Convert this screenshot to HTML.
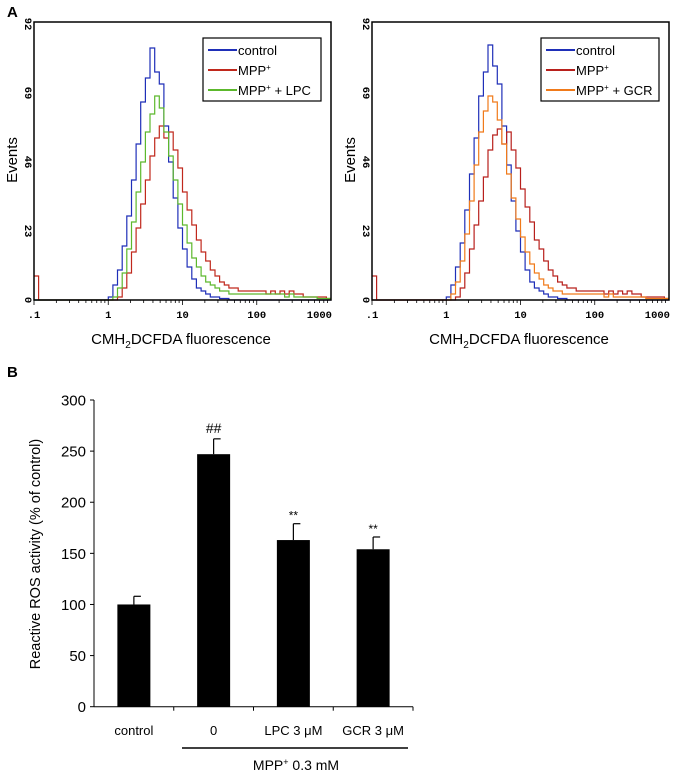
<!DOCTYPE html>
<html><head><meta charset="utf-8"><style>
html,body{margin:0;padding:0;background:#fff;}
svg{display:block;font-family:"Liberation Sans",sans-serif;}
</style></head><body>
<svg id="fig" width="676" height="775" viewBox="0 0 676 775"></svg>
<script>
// ---- histogram data (16 bins per decade, 0.1 .. 1000) ----
const binsPerDecade = 16;
const histLeftControl = [0,0,0,0,0,0,0,0,0,0,0,0,0,0,0,0,1,5,10,18,28,40,52,66,74,84,76,72,58,46,34,24,17,11,7,4,3,2,1,1,0.5,0.5,0,0,0,0,0,0,0,0,0,0,0,0,0,0,0,0,0,0,0,0,0,0];
const histLeftMpp = [8,0,0,0,0,0,0,0,0,0,0,0,0,0,0,0,0,0,1,4,9,16,24,32,40,48,54,58,54,56,50,44,36,30,25,20,16,13,10,8,6,5,4,4,3,3,3,3,3,3,2,3,2,3,2,3,2,2,1,1,1,1,1,0.5];
const histLeftLpc = [0,0,0,0,0,0,0,0,0,0,0,0,0,0,0,0,0,1,4,9,17,26,36,46,56,62,68,64,56,48,40,32,25,19,14,11,8,6,5,4,3,3,2,2,2,2,2,2,2,2,2,2,2,2,1,2,1,1,1,1,1,0.5,0.5,0.5];
const histRightControl = [0,0,0,0,0,0,0,0,0,0,0,0,0,0,0,0,1,5,11,19,30,42,54,68,76,85,78,72,58,45,33,23,16,10,6,4,3,2,1,1,0.5,0.5,0,0,0,0,0,0,0,0,0,0,0,0,0,0,0,0,0,0,0,0,0,0];
const histRightMpp = [8,0,0,0,0,0,0,0,0,0,0,0,0,0,0,0,0,0,1,4,9,17,25,33,41,50,55,57,52,56,50,44,37,31,26,20,17,13,10,8,6,5,4,4,3,3,3,3,3,3,2,3,2,3,2,3,2,2,1,1,1,1,1,0.5];
const histRightGcr = [0,0,0,0,0,0,0,0,0,0,0,0,0,0,0,0,0,2,6,13,22,33,45,56,63,68,66,60,52,42,34,27,21,16,12,9,7,5,4,3,3,2,2,2,2,2,2,2,2,2,1,2,1,1,1,1,1,1,1,0.5,0.5,0.5,0.5,0.5];
const yTicks = [0,23,46,69,92];
const xTickLabels = [".1","1","10","100","1000"];
// ---- bar data ----
const barCats = ["control","0","LPC 3 μM","GCR 3 μM"];
const barVals = [100,247,163,154];
const barErr = [8,15,16,12];
const barMarks = ["","##","**","**"];
const barTicks = [0,50,100,150,200,250,300];

const NS="http://www.w3.org/2000/svg";
const svg=document.getElementById('fig');
function mk(tag,attrs,parent){const e=document.createElementNS(NS,tag);for(const k in attrs)e.setAttribute(k,attrs[k]);(parent||svg).appendChild(e);return e;}
function txt(s,attrs,parent){const e=mk('text',attrs,parent);e.textContent=s;return e;}

txt("A",{x:7,y:17,"font-size":15,"font-weight":"bold"});
txt("B",{x:7,y:377,"font-size":15,"font-weight":"bold"});

function panel(ox,series,names,colors,legX,pname){
  const g=mk('g',{});
  
  
  const x0=34+ox,x1=331+ox,yb=300,yt=22;
  const xs=v=>x0+(Math.log10(v)+1)/4*(x1-x0);
  const ys=v=>yb-v/92*(yb-yt-2);
  series.forEach((arr,si)=>{
    let d="";
    arr.forEach((v,i)=>{
      const a=Math.pow(10,-1+i/binsPerDecade),b=Math.pow(10,-1+(i+1)/binsPerDecade);
      const y=ys(v);
      d+=(i===0?"M":"L")+xs(a).toFixed(1)+","+y.toFixed(1)+"L"+xs(b).toFixed(1)+","+y.toFixed(1);
    });
    const p=mk('path',{d:d,fill:"none",stroke:colors[si],"stroke-width":1.2},g);
    
    
  });
  const fr=mk('rect',{x:x0,y:yt,width:x1-x0,height:yb-yt,fill:"none",stroke:"#000","stroke-width":1.5},g);
  
  
  for(let dec=-1;dec<3;dec++){for(let m=1;m<10;m++){const v=m*Math.pow(10,dec);const x=xs(v);mk('line',{x1:x,x2:x,y1:yb,y2:yb+(m===1?5:3),stroke:"#000","stroke-width":0.8},g);}}
  xTickLabels.forEach((l,i)=>{const last=i===xTickLabels.length-1;
    const t=txt(l,{x:last?x1+1:xs(Math.pow(10,i-1)),y:318,"font-size":10.5,"font-family":"Liberation Mono,monospace","font-weight":"bold","text-anchor":last?"end":"middle"},g);
    });
  yTicks.forEach(v=>{const y=ys(v);const t=txt(String(v),{x:0,y:0,"font-size":10.5,"font-family":"Liberation Mono,monospace","font-weight":"bold","text-anchor":"middle",transform:`translate(${x0-9},${y}) rotate(90)`},g);
    });
  const yt2=txt("Events",{x:0,y:0,"font-size":15,"text-anchor":"middle",transform:`translate(${ox+17},160) rotate(-90)`},g);
  
  const xt=txt("",{x:ox+181,y:344,"font-size":15,"text-anchor":"middle"},g);
  
  xt.innerHTML='CMH<tspan font-size="10" dy="4">2</tspan><tspan dy="-4">DCFDA fluorescence</tspan>';
  const lg=mk('g',{},g);
  
  mk('rect',{x:legX,y:38,width:118,height:63,fill:"#fff",stroke:"#000","stroke-width":1.2},lg);
  names.forEach((n,i)=>{const y=50+i*20;
    mk('line',{x1:legX+5,x2:legX+34,y1:y,y2:y,stroke:colors[i],"stroke-width":2},lg);
    const t=txt("",{x:legX+35,y:y+5,"font-size":13},lg);
    
    const idx=n.indexOf("+");
    if(idx<0){t.textContent=n;}
    else{t.innerHTML=n.slice(0,idx)+"<tspan font-size='8' dy='-5'>+</tspan><tspan dy='5'>"+n.slice(idx+1).replace(/ /g,"\u00a0")+"</tspan>";}
  });
}
panel(0,[histLeftControl,histLeftMpp,histLeftLpc],["control","MPP+","MPP+ + LPC"],["#1f2fb8","#c0281c","#5cb82c"],203,"histogram-panel-lpc");
panel(338,[histRightControl,histRightMpp,histRightGcr],["control","MPP+","MPP+ + GCR"],["#1f2fb8","#b8201c","#f07a1a"],541,"histogram-panel-gcr");

(function(){
  const g=mk('g',{});
  const ax=94,y0=706.7,ytop=400,xEnd=413;
  const ys=v=>y0-v/300*(y0-ytop);
  const slot=(xEnd-ax)/barCats.length;
  const bx=i=>ax+slot*(i+0.5);
  mk('line',{x1:ax,x2:ax,y1:ytop,y2:y0,stroke:"#000","stroke-width":1},g);
  mk('line',{x1:ax,x2:xEnd,y1:y0,y2:y0,stroke:"#000","stroke-width":1},g);
  barTicks.forEach(v=>{const y=ys(v);mk('line',{x1:ax-4,x2:ax,y1:y,y2:y,stroke:"#000"},g);
    const t=txt(String(v),{x:ax-8,y:y+5.5,"font-size":15,"text-anchor":"end"},g);});
  for(let i=1;i<=barCats.length;i++){const x=ax+slot*i;mk('line',{x1:x,x2:x,y1:y0,y2:y0+4,stroke:"#000"},g);}
  barCats.forEach((c,i)=>{
    const cx=bx(i),w=33;
    const r=mk('rect',{x:cx-w/2,y:ys(barVals[i]),width:w,height:y0-ys(barVals[i]),fill:"#000"},g);
    
    const et=ys(barVals[i]+barErr[i]);
    mk('line',{x1:cx,x2:cx,y1:ys(barVals[i]),y2:et,stroke:"#000","stroke-width":1.2},g);
    mk('line',{x1:cx,x2:cx+7,y1:et,y2:et,stroke:"#000","stroke-width":1.2},g);
    if(barMarks[i]){const m=txt(barMarks[i],{x:cx,y:et-(barMarks[i]==="##"?6:4),"font-size":barMarks[i]==="##"?14:12,"text-anchor":"middle"},g);}
    const l=txt(c,{x:cx,y:735,"font-size":13,"text-anchor":"middle"},g);
  });
  mk('line',{x1:182,x2:408,y1:748,y2:748,stroke:"#000","stroke-width":1.5},g);
  const mp=txt("",{x:296,y:770,"font-size":14,"text-anchor":"middle"},g);
  
  mp.innerHTML="MPP<tspan font-size='9' dy='-5'>+</tspan><tspan dy='5'>\u00a00.3 mM</tspan>";
  const yl=txt("Reactive ROS activity (% of control)",{x:0,y:0,"font-size":14.5,"text-anchor":"middle",transform:"translate(40,554) rotate(-90)"},g);
  
})();
</script>
</body></html>
